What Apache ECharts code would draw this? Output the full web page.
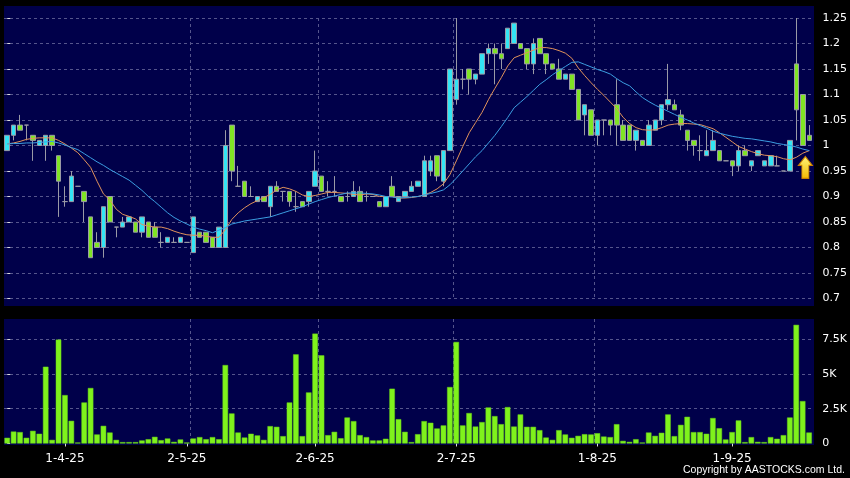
<!DOCTYPE html>
<html><head><meta charset="utf-8">
<script src="https://cdn.jsdelivr.net/npm/echarts@6/dist/echarts.min.js"></script>
<style>
html,body{margin:0;padding:0;background:#000;}
#wrap{position:relative;width:850px;height:478px;background:#000;overflow:hidden;}
.panel{position:absolute;background:#00004a;}
#chart{position:absolute;left:0;top:0;width:850px;height:478px;}
</style></head><body>
<div id="wrap">
<div class="panel" style="left:4px;top:6px;width:810px;height:300px"></div>
<div class="panel" style="left:4px;top:319px;width:810px;height:126px"></div>
<div id="chart"></div>
</div>
<script>
// trading days (d-m-25)
const categories = [
'18-3-25','19-3-25','20-3-25','21-3-25','24-3-25','25-3-25','26-3-25','27-3-25','28-3-25','31-3-25',
'1-4-25','2-4-25','3-4-25','7-4-25','8-4-25','9-4-25','10-4-25','11-4-25','14-4-25','15-4-25','16-4-25','17-4-25','22-4-25','23-4-25','24-4-25','25-4-25','28-4-25','29-4-25','30-4-25',
'2-5-25','6-5-25','7-5-25','8-5-25','9-5-25','12-5-25','13-5-25','14-5-25','15-5-25','16-5-25','19-5-25','20-5-25','21-5-25','22-5-25','23-5-25','26-5-25','27-5-25','28-5-25','29-5-25','30-5-25',
'2-6-25','3-6-25','4-6-25','5-6-25','6-6-25','9-6-25','10-6-25','11-6-25','12-6-25','13-6-25','16-6-25','17-6-25','18-6-25','19-6-25','20-6-25','23-6-25','24-6-25','25-6-25','26-6-25','27-6-25','30-6-25',
'2-7-25','3-7-25','4-7-25','7-7-25','8-7-25','9-7-25','10-7-25','11-7-25','14-7-25','15-7-25','16-7-25','17-7-25','18-7-25','21-7-25','22-7-25','23-7-25','24-7-25','25-7-25','28-7-25','29-7-25','30-7-25','31-7-25',
'1-8-25','4-8-25','5-8-25','6-8-25','7-8-25','8-8-25','11-8-25','12-8-25','13-8-25','14-8-25','15-8-25','18-8-25','19-8-25','20-8-25','21-8-25','22-8-25','25-8-25','26-8-25','27-8-25','28-8-25','29-8-25',
'1-9-25','2-9-25','3-9-25','4-9-25','5-9-25','8-9-25','9-9-25','10-9-25','11-9-25','12-9-25','15-9-25','16-9-25','17-9-25'
];

const open = [
0.99,1.02,1.04,1.04,1.02,1.00,1.00,1.02,0.98,0.89,
0.89,0.92,0.91,0.86,0.81,0.80,0.90,0.84,0.84,0.85,
0.85,0.83,0.85,0.84,0.81,0.81,0.81,0.81,0.81,0.79,
0.83,0.83,0.82,0.80,0.80,1.04,0.92,0.93,0.90,0.89,
0.90,0.88,0.92,0.91,0.91,0.88,0.89,0.89,0.92,0.94,
0.91,0.91,0.90,0.90,0.90,0.91,0.90,0.90,0.89,0.88,
0.92,0.89,0.90,0.91,0.92,0.90,0.95,0.98,0.93,0.99,
1.09,1.13,1.15,1.13,1.14,1.18,1.19,1.18,1.19,1.20,
1.20,1.19,1.16,1.21,1.18,1.16,1.15,1.13,1.14,1.11,
1.06,1.07,1.02,1.05,1.05,1.08,1.04,1.04,1.01,1.01,
1.00,1.03,1.05,1.08,1.08,1.06,1.03,1.01,0.99,0.98,
0.99,0.99,0.97,0.97,0.96,0.99,0.96,0.98,0.96,0.96,
0.96,0.95,0.95,1.16,1.10,1.02];
const close = [
1.02,1.04,1.03,1.04,1.01,1.01,1.02,1.00,0.93,0.89,
0.94,0.92,0.89,0.78,0.80,0.88,0.85,0.84,0.85,0.86,
0.83,0.86,0.82,0.82,0.81,0.82,0.81,0.82,0.81,0.86,
0.82,0.81,0.80,0.84,1.00,0.95,0.92,0.90,0.90,0.90,
0.89,0.92,0.91,0.91,0.89,0.88,0.88,0.91,0.95,0.91,
0.91,0.91,0.89,0.90,0.91,0.89,0.90,0.90,0.88,0.90,
0.90,0.90,0.91,0.92,0.93,0.97,0.97,0.94,0.99,1.15,
1.13,1.13,1.13,1.14,1.18,1.19,1.18,1.17,1.23,1.24,
1.19,1.16,1.20,1.18,1.16,1.15,1.13,1.14,1.11,1.05,
1.08,1.02,1.05,1.05,1.04,1.04,1.01,1.01,1.03,1.00,
1.04,1.05,1.08,1.09,1.07,1.04,1.01,1.00,0.99,0.99,
1.01,0.97,0.97,0.96,0.99,0.98,0.97,0.99,0.97,0.98,
0.96,0.95,1.01,1.07,1.00,1.01];
const low = [
0.99,1.01,1.03,1.01,0.97,1.00,0.97,0.99,0.86,0.88,
0.89,0.92,0.85,0.78,0.80,0.78,0.85,0.82,0.84,0.85,
0.83,0.82,0.82,0.82,0.80,0.81,0.81,0.81,0.81,0.79,
0.82,0.81,0.80,0.80,0.80,0.93,0.92,0.90,0.90,0.89,
0.89,0.86,0.91,0.89,0.88,0.87,0.88,0.88,0.92,0.91,
0.90,0.90,0.89,0.89,0.90,0.89,0.89,0.90,0.88,0.88,
0.90,0.89,0.90,0.91,0.92,0.90,0.94,0.93,0.92,0.99,
1.08,1.11,1.10,1.12,1.14,1.16,1.12,1.15,1.19,1.20,
1.19,1.15,1.14,1.18,1.14,1.15,1.13,1.13,1.11,1.05,
1.02,1.02,1.00,1.02,1.02,1.00,1.01,1.01,0.99,1.00,
1.00,1.03,1.04,1.07,1.07,1.03,0.99,0.98,0.97,0.98,
0.99,0.97,0.97,0.94,0.95,0.98,0.95,0.98,0.96,0.96,
0.96,0.95,0.95,1.01,1.00,1.01];
const high = [
1.02,1.04,1.06,1.04,1.02,1.01,1.02,1.02,0.98,0.92,
0.95,0.92,0.91,0.86,0.83,0.88,0.90,0.84,0.86,0.86,
0.85,0.86,0.85,0.85,0.83,0.82,0.82,0.82,0.81,0.86,
0.83,0.83,0.82,0.84,1.03,1.04,0.96,0.93,0.92,0.90,
0.90,0.92,0.93,0.91,0.91,0.91,0.89,0.91,0.99,0.94,
0.93,0.94,0.90,0.91,0.93,0.92,0.91,0.90,0.89,0.90,
0.94,0.90,0.91,0.93,0.93,0.98,0.98,0.98,0.99,1.15,
1.25,1.15,1.15,1.14,1.18,1.20,1.20,1.20,1.23,1.24,
1.20,1.19,1.21,1.21,1.18,1.16,1.17,1.14,1.14,1.11,
1.08,1.07,1.05,1.05,1.05,1.13,1.05,1.04,1.03,1.01,
1.05,1.05,1.08,1.16,1.09,1.07,1.03,1.01,1.02,1.03,
1.03,0.99,0.97,0.97,1.00,1.00,0.97,0.99,0.97,0.98,
0.98,0.95,1.01,1.25,1.10,1.04];

// moving averages as drawn (orange = short, blue = long)
const maShort = [
1.003,1.005,1.008,1.012,1.014,1.015,1.015,1.015,1.010,1.003,
0.995,0.986,0.972,0.957,0.930,0.905,0.893,0.875,0.865,0.861,
0.856,0.845,0.842,0.840,0.840,0.837,0.832,0.828,0.825,0.824,
0.824,0.822,0.820,0.820,0.835,0.855,0.868,0.878,0.886,0.892,
0.898,0.904,0.913,0.918,0.915,0.910,0.903,0.900,0.902,0.905,
0.908,0.908,0.907,0.906,0.904,0.903,0.905,0.904,0.900,0.900,
0.900,0.897,0.897,0.898,0.900,0.903,0.908,0.915,0.925,0.943,
0.970,0.998,1.025,1.045,1.065,1.090,1.112,1.133,1.156,1.172,
1.177,1.182,1.187,1.192,1.192,1.190,1.186,1.181,1.171,1.152,
1.137,1.123,1.110,1.098,1.085,1.072,1.055,1.043,1.035,1.031,
1.030,1.031,1.035,1.040,1.042,1.043,1.043,1.042,1.041,1.037,
1.033,1.025,1.016,1.007,0.998,0.993,0.988,0.984,0.981,0.980,
0.978,0.974,0.972,0.977,0.985,0.990];
const maLong = [
1.003,1.004,1.004,1.005,1.005,1.006,1.007,1.008,1.005,1.001,
0.996,0.992,0.984,0.976,0.968,0.961,0.953,0.946,0.939,0.932,
0.922,0.912,0.900,0.890,0.879,0.868,0.859,0.852,0.846,0.840,
0.836,0.833,0.829,0.834,0.839,0.846,0.849,0.852,0.854,0.856,
0.858,0.860,0.864,0.868,0.872,0.876,0.880,0.885,0.890,0.894,
0.898,0.901,0.904,0.907,0.907,0.907,0.906,0.905,0.903,0.900,
0.899,0.897,0.898,0.899,0.900,0.903,0.906,0.909,0.913,0.923,
0.936,0.950,0.964,0.978,0.990,1.005,1.020,1.037,1.055,1.074,
1.085,1.096,1.108,1.120,1.129,1.139,1.147,1.155,1.163,1.164,
1.159,1.154,1.149,1.145,1.140,1.131,1.123,1.117,1.105,1.094,
1.086,1.079,1.073,1.067,1.061,1.055,1.050,1.044,1.039,1.034,
1.028,1.024,1.021,1.018,1.016,1.014,1.013,1.011,1.009,1.007,
1.004,1.002,1.000,0.997,0.993,0.990];

const volume = [
410,860,820,410,910,700,5520,260,7470,3480,
1630,70,2950,3990,650,1270,790,260,100,100,
100,220,310,480,240,360,120,290,70,360,
460,310,460,310,5640,2160,790,430,700,580,
260,1250,1200,530,2950,6410,530,3670,7900,6340,
600,840,380,1870,1610,600,460,220,220,340,
3940,1750,840,100,670,1610,1490,1080,1300,4060,
7300,1300,2190,1220,1540,2590,1970,1390,2620,1220,
2090,1200,1200,960,430,260,960,650,410,550,
670,650,740,500,460,1390,190,120,310,70,
790,550,770,2090,530,1340,1920,820,820,700,
1830,1100,290,820,1660,100,460,120,100,460,
340,600,1870,8530,3050,790];

const xTickLabels = ['1-4-25','2-5-25','2-6-25','2-7-25','1-8-25','1-9-25'];
const xTickIndex = [9, 28, 48, 70, 92, 113];
const priceTicks = [0.7,0.75,0.8,0.85,0.9,0.95,1,1.05,1.1,1.15,1.2,1.25];
const volumeTicks = [0, 2500, 5000, 7500];

// vertical grid lines sit on the left boundary of each month's first trading day
const gridBounds = xTickLabels.map(l => categories.indexOf(l) - 0.5);
const ohlc = categories.map((_, i) => [open[i], close[i], low[i], high[i]]);

const dashStyle = {color: '#55558c', width: 1, type: [3, 3]};
const labelFont = '"DejaVu Sans", Verdana, sans-serif';

function boundaryAxis(gridIndex) {
  return {type: 'value', gridIndex: gridIndex, position: 'top',
          min: -0.5, max: categories.length - 0.5,
          axisLine: {show: false}, axisLabel: {show: false},
          axisTick: {show: false, customValues: gridBounds},
          splitLine: {show: true, showMinLine: false, showMaxLine: false, lineStyle: dashStyle}};
}

const chart = echarts.init(document.getElementById('chart'), null, {renderer: 'canvas'});
chart.setOption({
  backgroundColor: 'transparent',
  animation: false,
  grid: [
    {left: 4, right: 36, top: 18, height: 280.5},
    {left: 4, right: 36, top: 319, height: 124.5}
  ],
  xAxis: [
    {type: 'category', gridIndex: 0, data: categories, boundaryGap: true,
     axisLine: {show: false}, axisTick: {show: false}, axisLabel: {show: false}, splitLine: {show: false}},
    {type: 'category', gridIndex: 1, data: categories, boundaryGap: true, offset: 2,
     axisLine: {show: false},
     axisTick: {show: true, alignWithLabel: true, length: 3, interval: (i) => xTickIndex.includes(i),
                lineStyle: {color: '#dddddd'}},
     axisLabel: {show: true, interval: (i) => xTickIndex.includes(i), margin: 7,
                 color: '#ffffff', fontSize: 12, fontFamily: labelFont,
                 formatter: (v, i) => { const k = xTickIndex.indexOf(i); return k >= 0 ? xTickLabels[k] : ''; }},
     splitLine: {show: false}},
    boundaryAxis(0),
    boundaryAxis(1)
  ],
  yAxis: [
    {type: 'value', gridIndex: 0, position: 'right', offset: 4,
     min: priceTicks[0], max: priceTicks[priceTicks.length - 1], interval: 0.05,
     axisLine: {show: false},
     axisTick: {show: true, length: 3, lineStyle: {color: '#dddddd'}},
     axisLabel: {color: '#ffffff', fontSize: 11, margin: 6, fontFamily: labelFont,
                 formatter: (v) => String(+(+v).toFixed(2))},
     splitLine: {show: true, lineStyle: dashStyle}},
    {type: 'value', gridIndex: 1, position: 'right', offset: 4,
     min: 0, max: 8950, interval: 2500,
     axisLine: {show: false},
     axisTick: {show: true, length: 3, customValues: volumeTicks, lineStyle: {color: '#dddddd'}},
     axisLabel: {color: '#ffffff', fontSize: 11, margin: 6, fontFamily: labelFont,
                 customValues: volumeTicks,
                 formatter: (v) => v === 0 ? '0' : (v / 1000) + 'K'},
     splitLine: {show: true, showMinLine: false, lineStyle: dashStyle}}
  ],
  series: [
    {type: 'candlestick', name: 'price', xAxisIndex: 0, yAxisIndex: 0, data: ohlc, barWidth: 5,
     itemStyle: {color: '#33e4f4', color0: '#80e424', borderColor: '#9a9aa6', borderColor0: '#9a9aa6',
                 borderColorDoji: '#9a9aa6', borderWidth: 1},
     markPoint: {
       silent: true,
       label: {show: false},
       data: [{coord: [categories[124], 0.957],
               symbol: 'path://M7,0 L14,9 L10.5,9 L10.5,22 L3.5,22 L3.5,9 L0,9 Z',
               symbolSize: [14, 22], symbolOffset: [2.5, 0],
               itemStyle: {color: {type: 'linear', x: 0, y: 0, x2: 0, y2: 1,
                                   colorStops: [{offset: 0, color: '#fff57a'}, {offset: 1, color: '#f2b800'}]},
                           borderColor: '#c98000', borderWidth: 1}}]
     }},
    {type: 'line', name: 'MA short', xAxisIndex: 0, yAxisIndex: 0, data: maShort, symbol: 'none',
     lineStyle: {color: '#e0925c', width: 1}, z: 3},
    {type: 'line', name: 'MA long', xAxisIndex: 0, yAxisIndex: 0, data: maLong, symbol: 'none',
     lineStyle: {color: '#3c9ee2', width: 1}, z: 3},
    {type: 'bar', name: 'volume', xAxisIndex: 1, yAxisIndex: 1, data: volume, barWidth: '86%',
     itemStyle: {color: '#7ff21c', borderColor: '#6ad418', borderWidth: 0.5}}
  ],
  graphic: [
    {type: 'text', right: 5, top: 465,
     style: {text: 'Copyright by AASTOCKS.com Ltd.', fill: '#ffffff', font: '10.5px "Liberation Sans", Arial, sans-serif'}}
  ]
});
</script>
</body></html>
